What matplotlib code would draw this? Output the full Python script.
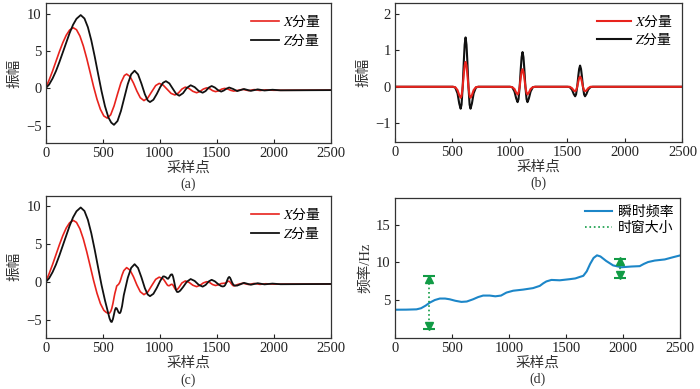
import matplotlib
matplotlib.use('Agg')
import matplotlib.pyplot as plt
from matplotlib.font_manager import FontProperties

plt.rcParams['font.family'] = ['Liberation Serif', 'Noto Sans CJK SC']
plt.rcParams['mathtext.fontset'] = 'stix'
plt.rcParams['axes.unicode_minus'] = True

## (a) original signal
xa_red = [0, 30, 60, 90, 120, 150, 180, 210, 242, 270, 300, 330, 360, 390, 420, 450, 480, 510,
          540, 570, 600, 630, 660, 690, 710, 740, 770, 800, 830, 862, 895, 930, 965, 996,
          1030, 1065, 1100, 1134, 1165, 1195, 1225, 1258, 1291, 1324, 1354, 1383, 1412,
          1438, 1464, 1490, 1517, 1543, 1570, 1597, 1623, 1650, 1690, 1730, 1780, 1830,
          1880, 1930, 2000, 2500]
ya_red = [0, 1.1, 2.3, 3.6, 4.9, 6.1, 7.1, 7.8, 8.1, 7.84, 7.0, 5.67, 3.99, 2.12, 0.22, -1.47, -2.83, -3.71,
          -4.0, -3.56, -2.36, -0.78, 0.73, 1.7, 1.9, 1.57, 0.7, -0.38, -1.27, -1.65, -1.32, -0.47, 0.36, 0.65,
          0.43, -0.13, -0.69, -0.9, -0.63, -0.11, 0.15, -0.04, -0.41, -0.6, -0.43, -0.11, 0.05,
          -0.05, -0.32, -0.45, -0.35, -0.12, -0.02, -0.1, -0.28, -0.38, -0.27, -0.15, -0.32, -0.18,
          -0.3, -0.22, -0.27, -0.25]
xa_blk = [0, 30, 60, 90, 120, 150, 180, 210, 240, 270, 307, 340, 370, 400, 430, 460, 490, 520, 550, 575,
          599, 630, 660, 690, 720, 750, 780, 810, 840, 870, 895, 915, 945, 975, 1005, 1030, 1055,
          1085, 1115, 1145, 1172, 1205, 1238, 1272, 1307, 1342, 1377, 1403, 1430, 1456,
          1484, 1512, 1540, 1563, 1587, 1610, 1645, 1680, 1740, 1800, 1860, 1920, 1990, 2060, 2500]
ya_blk = [0, 0.5, 1.3, 2.3, 3.5, 4.8, 6.1, 7.4, 8.5, 9.3, 9.8, 9.34, 8.18, 6.42, 4.25, 1.9, -0.4, -2.4, -3.9, -4.6,
          -4.9, -4.39, -3.05, -1.25, 0.55, 1.87, 2.35, 1.86, 0.62, -0.8, -1.63, -1.85, -1.54, -0.76, 0.16, 0.74, 0.95,
          0.65, -0.06, -0.76, -1.0, -0.66, 0.04, 0.4, 0.15, -0.35, -0.6, -0.38, 0.08, 0.3,
          0.1, -0.25, -0.45, -0.3, -0.05, 0.1, -0.1, -0.38, -0.1, -0.35, -0.15, -0.3, -0.2, -0.28, -0.25]

## (b) three wavelets
xb = [0,
      505, 525, 545, 560, 572, 580, 590, 600, 607, 615, 623, 630, 640, 650, 658, 670, 685, 705, 725,
      1000, 1020, 1040, 1055, 1067, 1075, 1085, 1095, 1102, 1110, 1118, 1125, 1135, 1145, 1153, 1165, 1180, 1200, 1220,
      1500, 1520, 1540, 1555, 1567, 1575, 1585, 1595, 1602, 1610, 1618, 1625, 1635, 1645, 1653, 1665, 1680, 1700, 1720,
      2500]
yb_red = [0,
          0, -0.01, -0.09, -0.23, -0.3, -0.25, 0, 0.36, 0.58, 0.68, 0.58, 0.36, 0, -0.25, -0.3, -0.23, -0.09, -0.01, 0,
          0, -0.01, -0.06, -0.16, -0.21, -0.17, 0, 0.26, 0.41, 0.48, 0.41, 0.26, 0, -0.17, -0.21, -0.16, -0.06, -0.01, 0,
          0, 0, -0.04, -0.1, -0.12, -0.1, 0, 0.15, 0.24, 0.28, 0.24, 0.15, 0, -0.1, -0.12, -0.1, -0.04, 0, 0,
          0]
yb_blk = [0,
          0, -0.02, -0.18, -0.46, -0.6, -0.49, 0, 0.72, 1.15, 1.35, 1.15, 0.72, 0, -0.49, -0.6, -0.46, -0.18, -0.02, 0,
          0, -0.01, -0.13, -0.32, -0.42, -0.34, 0, 0.51, 0.81, 0.95, 0.81, 0.51, 0, -0.34, -0.42, -0.32, -0.13, -0.01, 0,
          0, -0.01, -0.08, -0.2, -0.26, -0.21, 0, 0.31, 0.49, 0.58, 0.49, 0.31, 0, -0.21, -0.26, -0.2, -0.08, -0.01, 0,
          0]

## (c) synthetic record
xc_red = [0, 30, 60, 90, 120, 150, 180, 210, 242, 270, 300, 330, 360, 390, 420, 450, 480, 510, 530,
          545, 560, 572, 580, 590, 600, 607, 615, 623, 630, 640, 650, 658, 670, 685, 710,
          740, 770, 800, 830, 862, 895, 930, 965, 996, 1030, 1040, 1055, 1067, 1075, 1085, 1095,
          1102, 1110, 1118, 1125, 1135, 1145, 1153, 1165, 1180, 1195, 1225, 1258, 1291, 1324,
          1354, 1383, 1412, 1438, 1464, 1490, 1517, 1540, 1555, 1567, 1575, 1585, 1595, 1602,
          1610, 1618, 1625, 1635, 1645, 1653, 1665, 1680, 1700, 1730, 1780, 1830, 1880, 1930, 2000, 2500]
yc_red = [0, 1.1, 2.3, 3.6, 4.9, 6.1, 7.1, 7.8, 8.1, 7.84, 7.0, 5.67, 3.99, 2.12, 0.22, -1.47, -2.83, -3.71, -3.97,
          -4.09, -4.08, -3.8, -3.45, -2.8, -2.0, -1.47, -1.02, -0.52, -0.42, -0.28, -0.02, 0.33, 0.92, 1.5, 1.9,
          1.57, 0.7, -0.38, -1.27, -1.65, -1.32, -0.47, 0.36, 0.65, 0.42, 0.24, -0.11, -0.38, -0.47, -0.47, -0.36,
          -0.3, -0.3, -0.43, -0.62, -0.9, -1.02, -0.99, -0.79, -0.46, -0.12, 0.15, -0.04, -0.41, -0.6,
          -0.43, -0.11, 0.05, -0.05, -0.32, -0.45, -0.35, -0.19, -0.17, -0.15, -0.13, -0.05, 0.06, 0.12,
          0.1, 0, -0.14, -0.33, -0.47, -0.5, -0.45, -0.34, -0.25, -0.15, -0.32, -0.18, -0.3, -0.22, -0.27, -0.25]
xc_blk = [0, 30, 60, 90, 120, 150, 180, 210, 240, 270, 307, 340, 370, 400, 430, 460, 490, 520,
          545, 560, 572, 580, 590, 600, 607, 615, 623, 630, 640, 650, 658, 670, 685, 720, 750, 780,
          810, 840, 870, 895, 915, 945, 975, 1005, 1030, 1040, 1055, 1067, 1075, 1085, 1095, 1102,
          1110, 1118, 1125, 1135, 1145, 1153, 1165, 1180, 1205, 1238, 1272, 1307, 1342, 1377,
          1403, 1430, 1456, 1484, 1512, 1540, 1555, 1567, 1575, 1585, 1595, 1602, 1610, 1618,
          1625, 1635, 1645, 1653, 1665, 1680, 1740, 1800, 1860, 1920, 1990, 2060, 2500]
yc_blk = [0, 0.5, 1.3, 2.3, 3.5, 4.8, 6.1, 7.4, 8.5, 9.3, 9.8, 9.34, 8.18, 6.42, 4.25, 1.9, -0.4, -2.4,
          -3.88, -4.76, -5.2, -5.24, -4.85, -4.18, -3.7, -3.4, -3.45, -3.67, -4.0, -4.09, -3.9, -3.16, -1.73, 0.55, 1.87, 2.35,
          1.86, 0.62, -0.8, -1.63, -1.85, -1.54, -0.76, 0.16, 0.74, 0.74, 0.63, 0.45, 0.44, 0.65, 0.93, 1.01,
          1.0, 0.68, 0.21, -0.52, -1.1, -1.3, -1.29, -1.13, -0.66, 0.04, 0.4, 0.15, -0.35, -0.6,
          -0.38, 0.08, 0.3, 0.1, -0.25, -0.53, -0.58, -0.52, -0.38, -0.07, 0.33, 0.56, 0.68, 0.56,
          0.33, -0.04, -0.31, -0.43, -0.46, -0.46, -0.1, -0.35, -0.15, -0.3, -0.2, -0.28, -0.25]

## (d) instantaneous frequency
xd = [0, 100, 190, 230, 270, 306, 350, 394, 440, 481, 530, 583, 630, 685, 730, 773, 831, 880, 930, 977,
      1036, 1123, 1210, 1269, 1300, 1327, 1371, 1444, 1531, 1580, 1619, 1650, 1680, 1710, 1740, 1770,
      1800, 1850, 1911, 1983, 2071, 2144, 2180, 2217, 2275, 2363, 2436, 2500]
yd = [3.65, 3.66, 3.7, 3.85, 4.2, 4.6, 4.95, 5.15, 5.15, 5.05, 4.85, 4.7, 4.75, 5.05, 5.35, 5.55, 5.55, 5.45, 5.55, 5.95,
      6.2, 6.35, 6.55, 6.85, 7.2, 7.45, 7.65, 7.6, 7.75, 7.85, 8.05, 8.2, 8.8, 9.8, 10.6, 10.95,
      10.8, 10.2, 9.6, 9.35, 9.45, 9.5, 9.8, 10.05, 10.25, 10.4, 10.7, 10.95]
win_x = [300, 1975]
win_lo = [1.05, 7.9]
win_hi = [8.15, 10.5]

red = '#e8231d'
blk = '#111111'
blue = '#1c86c8'
green = '#119b45'
xticks = [0, 500, 1000, 1500, 2000, 2500]

# non-math part of a mathtext label uses this font (no fallback there)
leg_font = FontProperties(family='Noto Sans CJK SC', size=10)

fig = plt.figure(figsize=(7, 3.89), dpi=100)
axa = fig.add_axes([0.0653, 0.633, 0.407, 0.359])
axb = fig.add_axes([0.564, 0.636, 0.411, 0.357])
axc = fig.add_axes([0.0653, 0.132, 0.407, 0.364])
axd = fig.add_axes([0.564, 0.132, 0.408, 0.360])

axa.plot(xa_red, ya_red, color=red, lw=1.2, label='$X$分量')
axa.plot(xa_blk, ya_blk, color=blk, lw=1.3, label='$Z$分量')
axb.plot(xb, yb_blk, color=blk, lw=1.5)
axb.plot(xb, yb_red, color=red, lw=1.5)
axc.plot(xc_red, yc_red, color=red, lw=1.2, label='$X$分量')
axc.plot(xc_blk, yc_blk, color=blk, lw=1.3, label='$Z$分量')

axd.plot(xd, yd, color=blue, lw=1.5, label='瞬时频率')
for wx, lo, hi in zip(win_x, win_lo, win_hi):
    axd.plot([wx, wx], [lo, hi], color=green, lw=1.2, ls=':')
    axd.plot([wx, wx], [lo, hi], ls='none', marker='_', ms=8, mew=1.5, color=green)
    axd.plot([wx], [hi - 0.35], marker='^', ms=5.5, color=green)
    axd.plot([wx], [lo + 0.35], marker='v', ms=5.5, color=green)
axd.plot([], [], color=green, lw=1.2, ls=':', label='时窗大小')

# legend for (b): red entry first
hb = [plt.Line2D([], [], color=red, lw=1.5), plt.Line2D([], [], color=blk, lw=1.5)]
axb.legend(hb, ['$X$分量', '$Z$分量'], loc='upper right', frameon=False, prop=leg_font,
           handlelength=2.4, labelspacing=0.15, borderaxespad=0.3, handletextpad=0.3)
for ax in (axa, axc):
    ax.legend(loc='upper right', frameon=False, prop=leg_font, handlelength=2.0,
              labelspacing=0.15, borderaxespad=0.3, handletextpad=0.3)
axd.legend(loc='upper right', frameon=False, prop=leg_font, handlelength=2.0,
           labelspacing=0.15, borderaxespad=0.1, handletextpad=0.4)

axa.set_ylim(-7.3, 11.4)
axa.set_yticks([-5, 0, 5, 10])
axb.set_ylim(-1.5, 2.3)
axb.set_yticks([-1, 0, 1, 2])
axc.set_ylim(-7.3, 11.3)
axc.set_yticks([-5, 0, 5, 10])
axd.set_ylim(-0.1, 18.7)
axd.set_yticks([5, 10, 15])

for ax, cap, ylab in zip((axa, axb, axc, axd), ['(a)', '(b)', '(c)', '(d)'],
                         ['振幅', '振幅', '振幅', '频率/Hz']):
    ax.set_xlim(0, 2500)
    ax.set_xticks(xticks)
    ax.tick_params(direction='in', length=3, width=0.8, labelsize=10.5, pad=3, colors='#222222')
    for s in ax.spines.values():
        s.set_linewidth(0.9)
        s.set_color('#333333')
    ax.set_xlabel('采样点', fontsize=10.5, labelpad=1, color='#333333')
    ax.set_ylabel(ylab, fontsize=10.5, labelpad=3, color='#333333')
    ax.text(0.5, -0.30, cap, transform=ax.transAxes, ha='center', va='center',
            fontsize=10, color='#333333')

plt.savefig('out.png', dpi=100)
